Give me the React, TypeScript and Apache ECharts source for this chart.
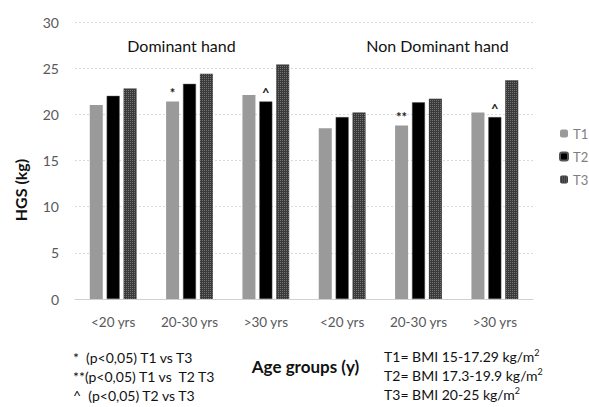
import React, { useEffect, useRef } from "react";
import * as echarts from "echarts";

const categories = ["<20 yrs", "20-30 yrs", ">30 yrs", "<20 yrs", "20-30 yrs", ">30 yrs"];
const t1Values = [21.0, 21.4, 22.1, 18.5, 18.8, 20.2];
const t2Values = [22.0, 23.3, 21.4, 19.7, 21.3, 19.7];
const t3Values = [22.8, 24.4, 25.4, 20.2, 21.7, 23.7];
const t1Marks = ["", "*", "", "", "**", ""];
const t2Marks = ["", "", "^", "", "", "^"];
const groupTitles = ["Dominant hand", "Non Dominant hand"];
const leftNotes = ["*  (p<0,05) T1 vs T3", "**(p<0,05) T1 vs  T2 T3", "^  (p<0,05) T2 vs T3"];
const rightNotes = ["T1= BMI 15-17.29 kg/m{s|2}", "T2= BMI 17.3-19.9 kg/m{s|2}", "T3= BMI 20-25 kg/m{s|2}"];

const FONT = "Lato, 'Open Sans', sans-serif";

export default function App() {
  const ref = useRef<HTMLDivElement>(null);
  useEffect(() => {
    const chart = echarts.init(ref.current!, null, { renderer: "svg" });
    const markLabel = (marks: string[]) => ({
      show: true,
      position: "top" as const,
      distance: 2,
      color: "#222",
      fontSize: 13,
      fontWeight: "bold" as const,
      fontFamily: FONT,
      formatter: (p: any) => marks[p.dataIndex],
    });
    chart.setOption({
      animation: false,
      backgroundColor: "#fff",
      textStyle: { fontFamily: FONT },
      grid: { left: 75, right: 56, top: 22, bottom: 108 },
      legend: {
        orient: "vertical",
        left: 559,
        top: 127,
        padding: 0,
        itemWidth: 8,
        itemHeight: 8,
        itemGap: 10,
        textStyle: { color: "#7f7f7f", fontSize: 13, fontFamily: FONT },
        data: ["T1", "T2", "T3"],
      },
      xAxis: {
        type: "category",
        data: categories,
        axisLine: { lineStyle: { color: "#d0d0d0" } },
        axisTick: { show: false },
        axisLabel: { color: "#595959", fontSize: 13.5, margin: 16, fontFamily: FONT },
      },
      yAxis: {
        type: "value",
        min: 0,
        max: 30,
        interval: 5,
        axisLabel: { color: "#595959", fontSize: 14, margin: 16, fontFamily: FONT },
        splitLine: { lineStyle: { color: "#d9d9d9", type: [2, 2] } },
        axisLine: { show: false },
        axisTick: { show: false },
      },
      series: [
        {
          name: "T1",
          type: "bar",
          data: t1Values,
          barWidth: 13,
          barGap: "30%",
          itemStyle: { color: "#9a9a9a" },
          label: markLabel(t1Marks),
        },
        {
          name: "T2",
          type: "bar",
          data: t2Values,
          barWidth: 13,
          barGap: "30%",
          itemStyle: { color: "#000", borderColor: "#555", borderWidth: 0.5 },
          label: markLabel(t2Marks),
        },
        {
          name: "T3",
          type: "bar",
          data: t3Values,
          barWidth: 13,
          barGap: "30%",
          itemStyle: {
            color: "#3a3a3a",
            decal: {
              symbol: "rect",
              symbolSize: 1,
              color: "rgba(140,140,140,0.7)",
              dashArrayX: [1, 1],
              dashArrayY: [1, 1],
              rotation: 0,
            },
          },
        },
      ],
      graphic: [
        {
          type: "text",
          x: 181.5,
          y: 45,
          style: { text: groupTitles[0], fontSize: 16, fill: "#111", fontFamily: FONT, textAlign: "center", textVerticalAlign: "middle" },
        },
        {
          type: "text",
          x: 437.5,
          y: 45,
          style: { text: groupTitles[1], fontSize: 16, fill: "#111", fontFamily: FONT, textAlign: "center", textVerticalAlign: "middle" },
        },
        {
          type: "text",
          x: 20,
          y: 190,
          rotation: Math.PI / 2,
          style: {
            text: "HGS (kg)",
            fontSize: 16,
            fontWeight: "bold",
            fill: "#111",
            fontFamily: FONT,
            textAlign: "center",
            textVerticalAlign: "middle",
          },
        },
        {
          type: "text",
          x: 305.5,
          y: 366,
          style: {
            text: "Age groups (y)",
            fontSize: 17,
            fontWeight: "bold",
            fill: "#111",
            fontFamily: FONT,
            textAlign: "center",
            textVerticalAlign: "middle",
          },
        },
        ...leftNotes.map((t, i) => ({
          type: "text",
          x: 73,
          y: 357 + i * 19,
          style: { text: t, fontSize: 14, fill: "#111", fontFamily: FONT, textVerticalAlign: "middle" },
        })),
        ...rightNotes.map((t, i) => ({
          type: "text",
          x: 384,
          y: 356 + i * 19,
          style: {
            text: t,
            fontSize: 14,
            fill: "#111",
            fontFamily: FONT,
            textVerticalAlign: "middle",
            rich: { s: { fontSize: 9, verticalAlign: "top", padding: [0, 0, 8, 0], fill: "#111", fontFamily: FONT } },
          },
        })),
      ],
    });
    return () => chart.dispose();
  }, []);
  return <div ref={ref} style={{ position: "absolute", left: 0, top: 0, width: 589, height: 407 }} />;
}
